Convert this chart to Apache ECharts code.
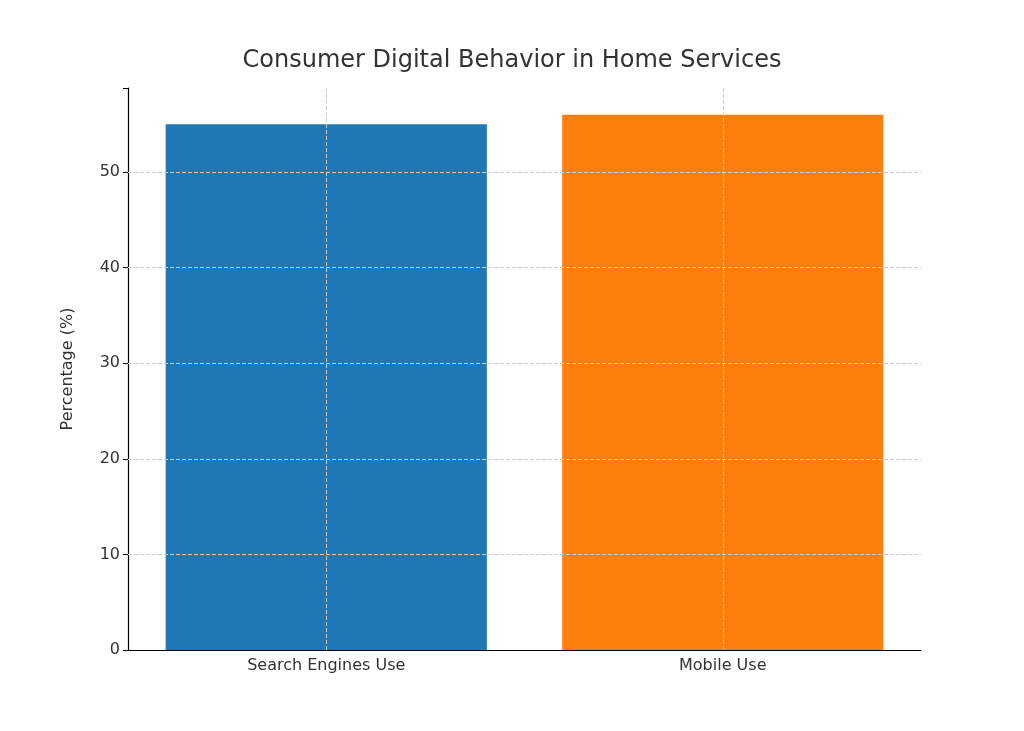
<!DOCTYPE html>
<html><head><meta charset="utf-8">
<script src="https://cdn.jsdelivr.net/npm/echarts@6/dist/echarts.min.js"></script>
<style>html,body{margin:0;background:#fff}#c{width:1024px;height:731px}</style>
</head><body><div id="c"></div>
<script>
const categories = ["Search Engines Use", "Mobile Use"];
const values = [55, 56];
const colors = ["#1f77b4", "#ff7f0e"];
const yTicks = [10, 20, 30, 40, 50];
const gridStyle = {color: "#cccccc", type: "dashed", width: 1};
const chart = echarts.init(document.getElementById("c"));
chart.setOption({
  animation: false,
  title: {text: "Consumer Digital Behavior in Home Services", left: "center", top: 44,
    textStyle: {fontFamily: "DejaVu Sans", fontSize: 24, fontWeight: "normal", color: "#333"}},
  grid: {left: 128, right: 103, top: 88, bottom: 81},
  xAxis: {type: "category", data: categories,
    axisLine: {lineStyle: {color: "#000", width: 1.2}},
    axisTick: {alignWithLabel: true, length: 5, lineStyle: {color: "#000"}},
    axisLabel: {fontFamily: "DejaVu Sans", fontSize: 16, color: "#333", margin: 8},
    splitLine: {show: false}},
  yAxis: {type: "value", min: 0, max: 58.8, interval: 10,
    name: "Percentage (%)", nameLocation: "middle", nameGap: 52,
    nameTextStyle: {fontFamily: "DejaVu Sans", fontSize: 16, color: "#333"},
    axisLine: {show: true, lineStyle: {color: "#000", width: 1.2}},
    axisTick: {show: true, length: 5, lineStyle: {color: "#000"}},
    axisLabel: {fontFamily: "DejaVu Sans", fontSize: 16, color: "#333", margin: 8,
      formatter: v => (v % 10 === 0 ? v : "")},
    splitLine: {show: false}},
  series: [{type: "bar", data: values.map((v, i) => ({value: v, itemStyle: {color: colors[i]}})),
    barCategoryGap: "19%",
    markLine: {silent: true, symbol: "none", label: {show: false}, lineStyle: gridStyle,
      data: categories.map(c => ({xAxis: c})).concat(yTicks.map(t => ({yAxis: t})))}}]
});
</script></body></html>
